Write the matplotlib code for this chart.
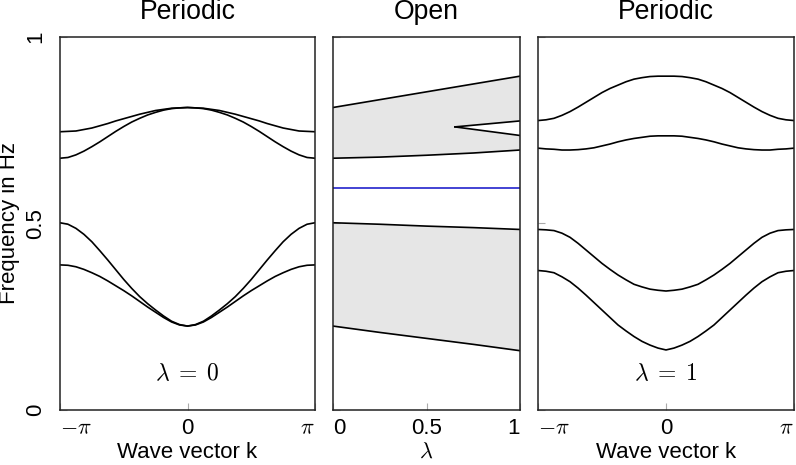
import numpy as np
import matplotlib
matplotlib.use("Agg")
import matplotlib.pyplot as plt

plt.rcParams['font.family'] = ['Liberation Sans', 'DejaVu Sans']
plt.rcParams['mathtext.fontset'] = 'cm'
plt.rcParams['font.size'] = 16

# wave vector samples, -pi .. pi in steps of pi/16
k = np.linspace(-np.pi, np.pi, 33)

# periodic, lambda = 0
p0_band1 = [0.389, 0.388, 0.384, 0.377, 0.368, 0.358, 0.346, 0.333, 0.320,
            0.306, 0.291, 0.276, 0.262, 0.248, 0.236, 0.228, 0.225,
            0.228, 0.236, 0.248, 0.262, 0.276, 0.291, 0.306, 0.320,
            0.333, 0.346, 0.358, 0.368, 0.377, 0.384, 0.388, 0.389]
p0_band2 = [0.502, 0.498, 0.487, 0.471, 0.451, 0.427, 0.402, 0.376, 0.350,
            0.326, 0.304, 0.285, 0.268, 0.252, 0.238, 0.229, 0.225,
            0.229, 0.238, 0.252, 0.268, 0.285, 0.304, 0.326, 0.350,
            0.376, 0.402, 0.427, 0.451, 0.471, 0.487, 0.498, 0.502]
p0_band3 = [0.675, 0.677, 0.684, 0.694, 0.706, 0.719, 0.733, 0.747, 0.760,
            0.772, 0.782, 0.791, 0.798, 0.804, 0.808, 0.810, 0.811,
            0.810, 0.808, 0.804, 0.798, 0.791, 0.782, 0.772, 0.760,
            0.747, 0.733, 0.719, 0.706, 0.694, 0.684, 0.677, 0.675]
p0_band4 = [0.746, 0.747, 0.748, 0.752, 0.756, 0.762, 0.768, 0.775, 0.781,
            0.787, 0.793, 0.798, 0.803, 0.806, 0.809, 0.810, 0.811,
            0.810, 0.809, 0.806, 0.803, 0.798, 0.793, 0.787, 0.781,
            0.775, 0.768, 0.762, 0.756, 0.752, 0.748, 0.747, 0.746]

# periodic, lambda = 1
p1_band1 = [0.374, 0.372, 0.368, 0.357, 0.344, 0.327, 0.308, 0.288, 0.268,
            0.248, 0.228, 0.212, 0.197, 0.184, 0.174, 0.166, 0.161,
            0.166, 0.174, 0.184, 0.197, 0.212, 0.228, 0.248, 0.268,
            0.288, 0.308, 0.327, 0.344, 0.357, 0.368, 0.372, 0.374]
p1_band2 = [0.484, 0.483, 0.481, 0.474, 0.463, 0.447, 0.429, 0.411, 0.393,
            0.377, 0.362, 0.349, 0.337, 0.330, 0.324, 0.321, 0.319,
            0.321, 0.324, 0.330, 0.337, 0.349, 0.362, 0.377, 0.393,
            0.411, 0.429, 0.447, 0.463, 0.474, 0.481, 0.483, 0.484]
p1_band3 = [0.702, 0.700, 0.699, 0.697, 0.697, 0.698, 0.700, 0.703, 0.708,
            0.713, 0.719, 0.724, 0.728, 0.731, 0.734, 0.735, 0.735,
            0.735, 0.734, 0.731, 0.728, 0.724, 0.719, 0.713, 0.708,
            0.703, 0.700, 0.698, 0.697, 0.697, 0.699, 0.700, 0.702]
p1_band4 = [0.776, 0.778, 0.782, 0.790, 0.800, 0.812, 0.825, 0.838, 0.851,
            0.862, 0.871, 0.880, 0.887, 0.891, 0.894, 0.895, 0.895,
            0.895, 0.894, 0.891, 0.887, 0.880, 0.871, 0.862, 0.851,
            0.838, 0.825, 0.812, 0.800, 0.790, 0.782, 0.778, 0.776]

# open system, spectrum vs lambda
lam = [0.0, 0.25, 0.5, 0.75, 1.0]
upper_top = [0.811, 0.832, 0.853, 0.874, 0.895]
upper_bot = [0.675, 0.678, 0.683, 0.689, 0.697]
lower_top = [0.502, 0.498, 0.493, 0.489, 0.484]
lower_bot = [0.225, 0.208, 0.192, 0.176, 0.159]
gap_lam = [0.652, 1.0]
gap_hi = [0.759, 0.775]
gap_lo = [0.759, 0.736]
edge_state = 0.595

W, H = 796, 465
fig = plt.figure(figsize=(W / 100, H / 100), dpi=100)
ax1 = fig.add_axes([60 / W, 55 / H, 255 / W, 373 / H])
ax2 = fig.add_axes([333 / W, 55 / H, 187 / W, 373 / H])
ax3 = fig.add_axes([538 / W, 55 / H, 256 / W, 373 / H])

line_kw = dict(color='black', lw=1.2)

for ax, bands in ((ax1, (p0_band1, p0_band2, p0_band3, p0_band4)),
                  (ax3, (p1_band1, p1_band2, p1_band3, p1_band4))):
    for b in bands:
        ax.plot(k, b, **line_kw)
    ax.set_xlim(-np.pi, np.pi)
    ax.set_xticks([-np.pi, 0, np.pi])
    ax.set_xticklabels([r'$-\pi$', '0', r'$\pi$'])
    ax.set_xlabel('Wave vector k', labelpad=2)
    ax.set_title('Periodic', pad=13)

ax1.text(0, 0.095, r'$\lambda\;=\;0$', ha='center', va='center', fontsize=17)
ax3.text(0, 0.095, r'$\lambda\;=\;1$', ha='center', va='center', fontsize=17)

# open panel
fill_c = '#e6e6e6'
ax2.fill_between(lam, upper_bot, upper_top, color=fill_c, lw=0)
ax2.fill_between(gap_lam, gap_lo, gap_hi, color='white', lw=0)
ax2.fill_between(lam, lower_bot, lower_top, color=fill_c, lw=0)
for b in (upper_top, upper_bot, lower_top, lower_bot):
    ax2.plot(lam, b, **line_kw)
ax2.plot(gap_lam, gap_hi, **line_kw)
ax2.plot(gap_lam, gap_lo, **line_kw)
ax2.axhline(edge_state, color='#2222cc', lw=1.2)
ax2.set_xlim(0, 1)
ax2.set_xticks([0, 0.5, 1])
ax2.set_xticklabels(['0', '0.5', '1'])
ax2.set_xlabel(r'$\lambda$', labelpad=2)
ax2.set_title('Open', pad=13)

for ax in (ax1, ax2, ax3):
    ax.set_ylim(0, 1)
    ax.set_yticks([0, 0.5, 1])
    ax.tick_params(direction='in', length=5, width=0.8, color='#aaaaaa',
                   pad=6, top=False, right=False)
    for s in ax.spines.values():
        s.set_linewidth(1.1)
        s.set_color('#222222')
    labels = ax.get_xticklabels()
    labels[0].set_ha('left')
    labels[-1].set_ha('right')

ax1.set_yticklabels(['0', '0.5', '1'], rotation=90, va='center')
ax1.tick_params(axis='y', pad=10)
ax2.set_yticklabels([])
ax3.set_yticklabels([])

fig.text(10 / W, (55 + 373 / 2) / H, 'Frequency in Hz', rotation=90,
         ha='center', va='center')

fig.savefig('out.png', dpi=100)
